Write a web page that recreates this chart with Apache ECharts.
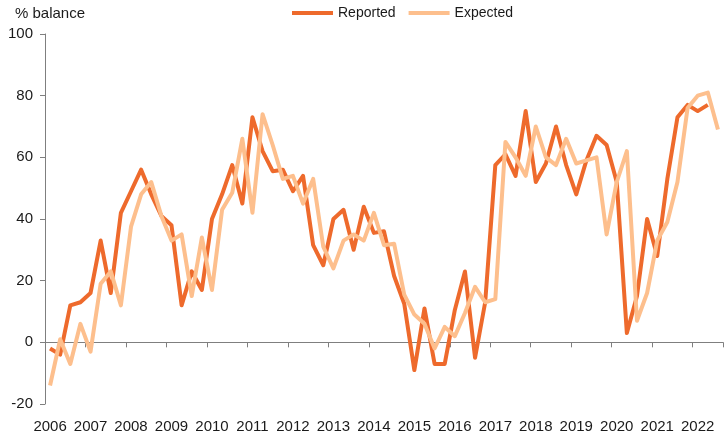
<!DOCTYPE html>
<html>
<head>
<meta charset="utf-8">
<script src="https://cdn.jsdelivr.net/npm/echarts@6/dist/echarts.min.js"></script>
<style>
html,body{margin:0;padding:0;background:#fff;}
#chart{width:728px;height:439px;}
</style>
</head>
<body>
<div id="chart"></div>
<script>
const years = [2006,2007,2008,2009,2010,2011,2012,2013,2014,2015,2016,2017,2018,2019,2020,2021,2022];
const quarters = ["Q1","Q2","Q3","Q4"];
const categories = [];
years.forEach(y => quarters.forEach(q => { if (!(y === 2022 && q === "Q4")) categories.push(y + " " + q); }));

const reported = [
  -2, -4, 12, 13,
  16, 33, 16, 42,
  49, 56, 48, 41,
  38, 12, 23, 17,
  40, 48, 57.5, 45,
  73, 62, 55.5, 56,
  49, 54, 31.5, 25,
  40, 43, 30, 44,
  35.5, 36, 21.5, 12.5,
  -9, 11, -7, -7,
  10.5, 23, -5, 13,
  57.5, 61, 54, 75,
  52, 58, 70, 57.5,
  48, 59, 67, 64,
  52, 3, 15, 40,
  28, 53, 73, 77,
  75, 77
];
const expected = [
  -14, 1, -7, 6,
  -3, 19, 23, 12,
  37.5, 48, 52, 41,
  33, 35, 15, 34,
  17, 43, 48.5, 66,
  42, 74, 64, 53,
  54, 45, 53, 31,
  24, 33, 35, 33,
  42, 31.5, 32, 15.5,
  9, 6, -2, 5,
  2, 9.5, 18, 13,
  14, 65, 60, 54,
  70, 60, 57.5, 66,
  58, 59, 60, 35,
  52, 62, 7, 16,
  33, 39, 52, 76,
  80, 81, 69
];
const seriesNames = ["Reported", "Expected"];
const yTitle = "% balance";

const chart = echarts.init(document.getElementById('chart'), null, {renderer:'canvas'});
const font = "Liberation Sans, Arial, sans-serif";
const option = {
  animation: false,
  backgroundColor: '#ffffff',
  textStyle: {fontFamily: font},
  grid: {left: 45, right: 5, top: 34, bottom: 35, containLabel: false},
  legend: {
    data: seriesNames,
    left: 292, top: 6, padding: 0,
    icon: 'rect',
    itemWidth: 41, itemHeight: 4,
    itemGap: 13,
    textStyle: {fontFamily: font, fontSize: 14, color: '#1a1a1a'}
  },
  graphic: [{
    type: 'text', left: 15, top: 6,
    style: {text: yTitle, fontFamily: font, fontSize: 15, fill: '#1a1a1a'}
  }],
  xAxis: [{
    type: 'category', data: categories, boundaryGap: true, position: 'bottom',
    axisLine: {show: false, onZero: false},
    axisTick: {show: false},
    axisLabel: {
      interval: 3, margin: 15, fontFamily: font, fontSize: 15, color: '#1a1a1a',
      formatter: v => v.split(' ')[0]
    }
  }, {
    type: 'category', data: categories, boundaryGap: true, position: 'bottom',
    axisLine: {show: true, onZero: true, lineStyle: {color: '#7f7f7f', width: 1}},
    axisTick: {show: true, interval: 3, length: 5, lineStyle: {color: '#7f7f7f'}},
    axisLabel: {show: false}
  }],
  yAxis: {
    type: 'value', min: -20, max: 100, interval: 20,
    axisLine: {show: true, lineStyle: {color: '#7f7f7f', width: 1}},
    axisTick: {show: true, length: 5, lineStyle: {color: '#7f7f7f'}},
    splitLine: {show: false},
    axisLabel: {margin: 12, fontFamily: font, fontSize: 15, color: '#1a1a1a'}
  },
  series: [{
    name: seriesNames[0], type: 'line', data: reported, xAxisIndex: 0,
    symbol: 'none', z: 3,
    itemStyle: {color: '#ee6a2c'},
    lineStyle: {color: '#ee6a2c', width: 4, join: 'round'}
  }, {
    name: seriesNames[1], type: 'line', data: expected, xAxisIndex: 0,
    symbol: 'none', z: 4,
    itemStyle: {color: '#fdbf8d'},
    lineStyle: {color: '#fdbf8d', width: 4, join: 'round'}
  }]
};
chart.setOption(option);
</script>
</body>
</html>
